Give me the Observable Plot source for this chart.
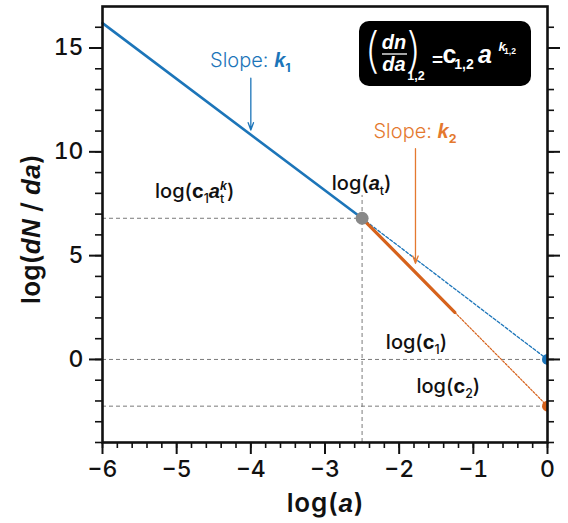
<!DOCTYPE html>
<html><head><meta charset="utf-8">
<script src="https://cdn.jsdelivr.net/npm/d3@7"></script>
<script src="https://cdn.jsdelivr.net/npm/@observablehq/plot@0.6"></script>
<style>
body{margin:0;background:#fff;}
svg{font-family:Inter,"Liberation Sans",Arial,sans-serif;}
</style>
</head><body><div id="chart"></div>
<script>
// ---- data ----
const xMajorTicks = [-6, -5, -4, -3, -2, -1, 0];
const yMajorTicks = [0, 5, 10, 15];
const xMinorTicks = [-6,-5.8,-5.6,-5.4,-5.2,-5,-4.8,-4.6,-4.4,-4.2,-4,-3.8,-3.6,-3.4,-3.2,-3,-2.8,-2.6,-2.4,-2.2,-2,-1.8,-1.6,-1.4,-1.2,-1,-0.8,-0.6,-0.4,-0.2,0];
const yMinorTicks = [-4,-3,-2,-1,0,1,2,3,4,5,6,7,8,9,10,11,12,13,14,15,16];

const blueSolid    = [{x: -6, y: 16.2}, {x: -2.5, y: 6.8}];
const blueDashed   = [{x: -2.5, y: 6.8}, {x: 0, y: 0}];
const orangeSolid  = [{x: -2.5, y: 6.8}, {x: -1.25, y: 2.27}];
const orangeDashed = [{x: -1.25, y: 2.27}, {x: 0, y: -2.25}];

const transitionPoint = [{x: -2.5, y: 6.8}];
const interceptPoints = [{x: 0, y: 0, s: "c1"}, {x: 0, y: -2.25, s: "c2"}];

// guide lines (gray dashed)
const guideH = [
  {x1: -6, x2: -2.5, y: 6.8},
  {x1: -6, x2: 0, y: 0},
  {x1: -6, x2: 0, y: -2.25}
];
const guideV = [{x: -2.5, y1: -4, y2: 7.9}];

const arrows = [
  {x: -4, y1: 13.55, y2: 11.05, c: "blue"},
  {x: -1.78, y1: 10.15, y2: 4.63, c: "orange"}
];

const BLUE = "#1c75b9", ORANGE = "#d6621c", ORANGE_T = "#e4792f", GRAY = "#888888";
const FONT = "Inter, 'Liberation Sans', Arial, sans-serif";
const IFONT = "'Liberation Sans', Arial, sans-serif";

// rich labels: anchor in data coordinates
const labels = [
  {x: -4, y: 14.05, fill: BLUE, size: 20, weight: 300,
   segs: [{t: "Slope: "}, {t: "k", b: 1, i: 1}, {t: "1", b: 1, sub: 1}]},
  {x: -1.78, y: 10.62, fill: ORANGE_T, size: 20, weight: 300,
   segs: [{t: "Slope: "}, {t: "k", b: 1, i: 1}, {t: "2", b: 1, sub: 1}]},
  {x: -2.5, y: 8.12, fill: "#111", size: 20, weight: 500,
   segs: [{t: "log("}, {t: "a", b: 1, i: 1}, {t: "t", sub: 1}, {t: ")"}]},
  {x: -4.75, y: 7.75, fill: "#111", size: 20, weight: 500,
   segs: [{t: "log("}, {t: "c", b: 1}, {t: "1", sub: 1}, {t: "a", b: 1, i: 1}, {t: "t", sub: 1}, {t: "k", sup: 1, i: 1, back: 1}, {t: ")"}]},
  {x: -1.76, y: 0.47, fill: "#111", size: 20, weight: 500,
   segs: [{t: "log("}, {t: "c", b: 1}, {t: "1", sub: 1}, {t: ")"}]},
  {x: -1.33, y: -1.64, fill: "#111", size: 20, weight: 500,
   segs: [{t: "log("}, {t: "c", b: 1}, {t: "2", sub: 1}, {t: ")"}]}
];

const fmt = d => d < 0 ? "\u2212" + Math.abs(d) : String(d);

function richText(parent, segs, x, y, o) {
  const t = parent.append("text").attr("x", x).attr("y", y)
    .attr("text-anchor", o.anchor || "middle")
    .attr("fill", o.fill).attr("font-size", o.size)
    .attr("font-weight", o.weight || "normal");
  if (o.ls) t.attr("letter-spacing", o.ls);
  let shift = 0, lastW = 0;
  for (const s of segs) {
    const target = s.sub ? o.size * 0.25 : s.sup ? -o.size * 0.42 : 0;
    const ts = t.append("tspan").text(s.t).attr("dy", target - shift);
    shift = target;
    if (s.back) ts.attr("dx", -lastW);
    if (s.sub || s.sup) ts.attr("font-size", o.size * 0.62);
    if (s.i) ts.attr("font-style", "italic").attr("font-family", IFONT).attr("font-weight", "bold");
    if (s.b) ts.attr("font-weight", "bold");
    lastW = s.sub || s.sup ? o.size * 0.62 * 0.33 * s.t.length : 0;
  }
  return t;
}

function annotations(index, scales, values, dim) {
  const {x, y} = scales;
  const g = d3.create("svg:g").attr("font-family", FONT);
  for (const l of labels) richText(g, l.segs, x(l.x), y(l.y), l);

  // axis titles
  richText(g, [{t: "log("}, {t: "a", i: 1}, {t: ")"}],
    (dim.marginLeft + dim.width - dim.marginRight) / 2 + 1, dim.height - 11,
    {fill: "#111", size: 26, weight: 600, ls: 0.8});
  const yl = richText(g, [{t: "log("}, {t: "dN", i: 1}, {t: " / "}, {t: "da", i: 1}, {t: ")"}],
    0, 0, {fill: "#111", size: 26, weight: 600, ls: 0.3});
  yl.attr("transform", `translate(40,229) rotate(-90)`);

  // equation box
  const bx = dim.width - dim.marginRight - 188, by = dim.marginTop + 15;
  const eq = g.append("g").attr("transform", `translate(${bx},${by})`)
    .style("font-family", IFONT).attr("fill", "white").attr("font-weight", "bold");
  eq.append("rect").attr("width", 172).attr("height", 65).attr("rx", 10).attr("fill", "black");
  const paren = (px, ch) => eq.append("text").attr("x", px).attr("y", 46).attr("text-anchor", "middle")
    .style("font-family", FONT).attr("font-size", 48).attr("font-weight", 200).text(ch);
  paren(13, "(");
  paren(55, ")");
  eq.append("text").attr("x", 35).attr("y", 28).attr("text-anchor", "middle").attr("font-size", 20)
    .attr("font-style", "italic").text("dn");
  eq.append("line").attr("x1", 23).attr("x2", 48).attr("y1", 33).attr("y2", 33)
    .attr("stroke", "white").attr("stroke-width", 1.3);
  eq.append("text").attr("x", 35).attr("y", 50).attr("text-anchor", "middle").attr("font-size", 20)
    .attr("font-style", "italic").text("da");
  eq.append("text").attr("x", 57).attr("y", 59).attr("font-size", 12.5).text("1,2");
  eq.append("text").attr("x", 78.5).attr("y", 44.5).attr("text-anchor", "middle").attr("font-size", 19).text("=");
  eq.append("text").attr("x", 90.5).attr("y", 42).attr("font-size", 25).text("c");
  eq.append("text").attr("x", 105).attr("y", 47.5).attr("font-size", 14).text("1,2");
  eq.append("text").attr("x", 126).attr("y", 42).attr("font-size", 25)
    .attr("font-style", "italic").text("a");
  eq.append("text").attr("x", 143).attr("y", 30).attr("font-size", 13)
    .attr("font-style", "italic").text("k");
  eq.append("text").attr("x", 151).attr("y", 33).attr("font-size", 8.5).text("1,2");
  return g.node();
}

const chart = Plot.plot({
  width: 568,
  height: 523,
  marginLeft: 102,
  marginRight: 21,
  marginTop: 6,
  marginBottom: 81,
  style: {background: "white", fontFamily: FONT, color: "#111"},
  x: {domain: [-6, 0]},
  y: {domain: [-4, 17]},
  marks: [
    // guides
    Plot.ruleY(guideH, {x1: "x1", x2: "x2", y: "y", stroke: "#7a7a7a", strokeWidth: 1, strokeDasharray: "4,3"}),
    Plot.ruleX(guideV, {x: "x", y1: "y1", y2: "y2", stroke: "#7a7a7a", strokeWidth: 1, strokeDasharray: "4,3"}),
    // dashed extrapolations
    Plot.line(blueDashed, {x: "x", y: "y", stroke: BLUE, strokeWidth: 1.3, strokeDasharray: "3,2"}),
    Plot.line(orangeDashed, {x: "x", y: "y", stroke: ORANGE, strokeWidth: 1.2, strokeDasharray: "2,1.6"}),
    // solid segments
    Plot.line(blueSolid, {x: "x", y: "y", stroke: BLUE, strokeWidth: 2.6}),
    Plot.line(orangeSolid, {x: "x", y: "y", stroke: ORANGE, strokeWidth: 3.2}),
    // arrows
    Plot.arrow(arrows, {x1: "x", x2: "x", y1: "y1", y2: "y2",
      stroke: d => d.c === "blue" ? BLUE : ORANGE_T, strokeWidth: 1.3, headLength: 9, headAngle: 40}),
    // points
    Plot.dot(interceptPoints, {x: "x", y: "y", r: 5.5, fill: d => d.s === "c1" ? BLUE : ORANGE, stroke: "none", clip: true}),
    Plot.dot(transitionPoint, {x: "x", y: "y", r: 6.5, fill: GRAY, stroke: "none"}),
    // axes
    Plot.axisX(xMinorTicks, {tickSize: 6, strokeWidth: 1.6, tickFormat: () => "", label: null}),
    Plot.axisX(xMajorTicks, {tickSize: 12, strokeWidth: 2, tickPadding: 6, fontSize: 23, fontWeight: 500, tickFormat: fmt, label: null}),
    Plot.axisY(yMinorTicks, {tickSize: 7, strokeWidth: 1.6, tickFormat: () => "", label: null}),
    Plot.axisY(yMajorTicks, {tickSize: 13, strokeWidth: 2, tickPadding: 6, fontSize: 23, fontWeight: 500, tickFormat: fmt, label: null}),
    Plot.axisY(yMinorTicks, {anchor: "right", tickSize: 6, strokeWidth: 1.6, tickFormat: () => "", label: null}),
    Plot.axisY(yMajorTicks, {anchor: "right", tickSize: 12, strokeWidth: 2, tickFormat: () => "", label: null}),
    Plot.frame({stroke: "#111", strokeWidth: 2.6}),
    annotations
  ]
});
document.getElementById("chart").appendChild(chart);
</script>
</body></html>
